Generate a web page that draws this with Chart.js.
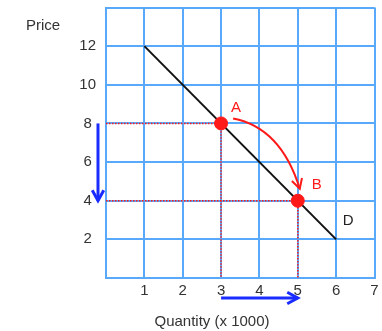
<!DOCTYPE html>
<html>
<head>
<meta charset="utf-8">
<script src="https://cdn.jsdelivr.net/npm/chart.js@4"></script>
<style>
  body { margin: 0; background: #fff; }
  #wrap { width: 382px; height: 331px; }
</style>
</head>
<body>
<div id="wrap"><canvas id="myChart"></canvas></div>
<script>
// data
const xTicks = [1, 2, 3, 4, 5, 6, 7];
const yTicks = [2, 4, 6, 8, 10, 12];
const demandQty = [1, 6];
const demandPrice = [12, 2];
const pointNames = ['A', 'B'];
const pointQty = [3, 5];
const pointPrice = [8, 4];

const FONT = '"Liberation Sans", Arial, sans-serif';
const GRID = '#58a9fb';
const RED = '#ff1a1a';
const BLUE = '#1a2cff';

function arrowHead(ctx, tipX, tipY, fromX, fromY, size) {
  const a = Math.atan2(tipY - fromY, tipX - fromX);
  ctx.beginPath();
  ctx.moveTo(tipX - size * Math.cos(a - 0.5), tipY - size * Math.sin(a - 0.5));
  ctx.lineTo(tipX, tipY);
  ctx.lineTo(tipX - size * Math.cos(a + 0.5), tipY - size * Math.sin(a + 0.5));
  ctx.stroke();
}

const extras = {
  id: 'extras',
  afterDatasetsDraw(chart) {
    const ctx = chart.ctx;
    const xs = chart.scales.x, ys = chart.scales.y;
    const ca = chart.chartArea;
    const ax = xs.getPixelForValue(pointQty[0]), ay = ys.getPixelForValue(pointPrice[0]);
    const bx = xs.getPixelForValue(pointQty[1]), by = ys.getPixelForValue(pointPrice[1]);
    ctx.save();

    // curved red arrow A -> B
    const sx = ax + 12, sy = ay - 5;
    const ex = bx + 2, ey = by - 12;
    const cx = ex - 19, cy = ay + 4;
    ctx.strokeStyle = RED;
    ctx.lineWidth = 2;
    ctx.beginPath();
    ctx.moveTo(sx, sy);
    ctx.quadraticCurveTo(cx, cy, ex, ey);
    ctx.stroke();
    arrowHead(ctx, ex, ey, cx, cy, 11);

    // blue arrows
    ctx.strokeStyle = BLUE;
    ctx.lineWidth = 3;
    const vx = ca.left - 8;
    ctx.beginPath();
    ctx.moveTo(vx, ay);
    ctx.lineTo(vx, by);
    ctx.stroke();
    arrowHead(ctx, vx, by, vx, ay, 12);
    const hy = ca.bottom + 20;
    ctx.beginPath();
    ctx.moveTo(ax, hy);
    ctx.lineTo(bx, hy);
    ctx.stroke();
    arrowHead(ctx, bx, hy, ax, hy, 12);

    // letters
    ctx.font = '15px ' + FONT;
    ctx.textAlign = 'center';
    ctx.textBaseline = 'middle';
    ctx.fillStyle = RED;
    ctx.fillText(pointNames[0], ax + 15, ay - 16);
    ctx.fillText(pointNames[1], bx + 19, by - 16);
    ctx.fillStyle = '#222';
    ctx.fillText('D', xs.getPixelForValue(demandQty[1]) + 12, ys.getPixelForValue(demandPrice[1]) - 18);

    // axis titles
    ctx.fillStyle = '#333';
    ctx.fillText('Price', 43, 26);
    ctx.fillText('Quantity (x 1000)', 212, 322);
    ctx.restore();
  }
};

new Chart(document.getElementById('myChart'), {
  type: 'scatter',
  data: {
    datasets: [
      {
        data: pointQty.map((q, i) => ({ x: q, y: pointPrice[i] })),
        backgroundColor: RED,
        borderColor: RED,
        pointRadius: 6.5,
        showLine: false
      },
      {
        data: demandQty.map((q, i) => ({ x: q, y: demandPrice[i] })),
        borderColor: '#111',
        borderWidth: 2,
        pointRadius: 0,
        showLine: true
      },
      {
        data: [{ x: 0, y: pointPrice[0] }, { x: pointQty[0], y: pointPrice[0] }, { x: pointQty[0], y: 0 }],
        borderColor: RED,
        borderWidth: 1.5,
        borderDash: [1.5, 1.5],
        pointRadius: 0,
        showLine: true
      },
      {
        data: [{ x: 0, y: pointPrice[1] }, { x: pointQty[1], y: pointPrice[1] }, { x: pointQty[1], y: 0 }],
        borderColor: RED,
        borderWidth: 1.5,
        borderDash: [1.5, 1.5],
        pointRadius: 0,
        showLine: true
      }
    ]
  },
  options: {
    responsive: true,
    maintainAspectRatio: false,
    animation: false,
    layout: { padding: { top: 7, right: 6, left: 0, bottom: 0 } },
    plugins: { legend: { display: false }, tooltip: { enabled: false } },
    scales: {
      x: {
        type: 'linear',
        min: 0,
        max: 7,
        afterFit(scale) {
          scale.height = 53;
          scale.paddingLeft = 0;
          scale.paddingRight = 0;
        },
        grid: { color: GRID, lineWidth: 2, drawTicks: false },
        border: { color: GRID, width: 2 },
        ticks: {
          stepSize: 1,
          padding: 4,
          color: '#333',
          font: { family: FONT, size: 15 },
          callback: v => xTicks.includes(v) ? String(v) : ''
        }
      },
      y: {
        type: 'linear',
        min: 0,
        max: 14,
        afterFit(scale) {
          scale.width = 106;
          scale.paddingTop = 0;
          scale.paddingBottom = 0;
        },
        grid: { color: GRID, lineWidth: 2, drawTicks: false },
        border: { color: GRID, width: 2 },
        ticks: {
          stepSize: 2,
          padding: 10,
          crossAlign: 'center',
          color: '#333',
          font: { family: FONT, size: 15 },
          callback: v => yTicks.includes(v) ? String(v) : ''
        }
      }
    }
  },
  plugins: [extras]
});
</script>
</body>
</html>
